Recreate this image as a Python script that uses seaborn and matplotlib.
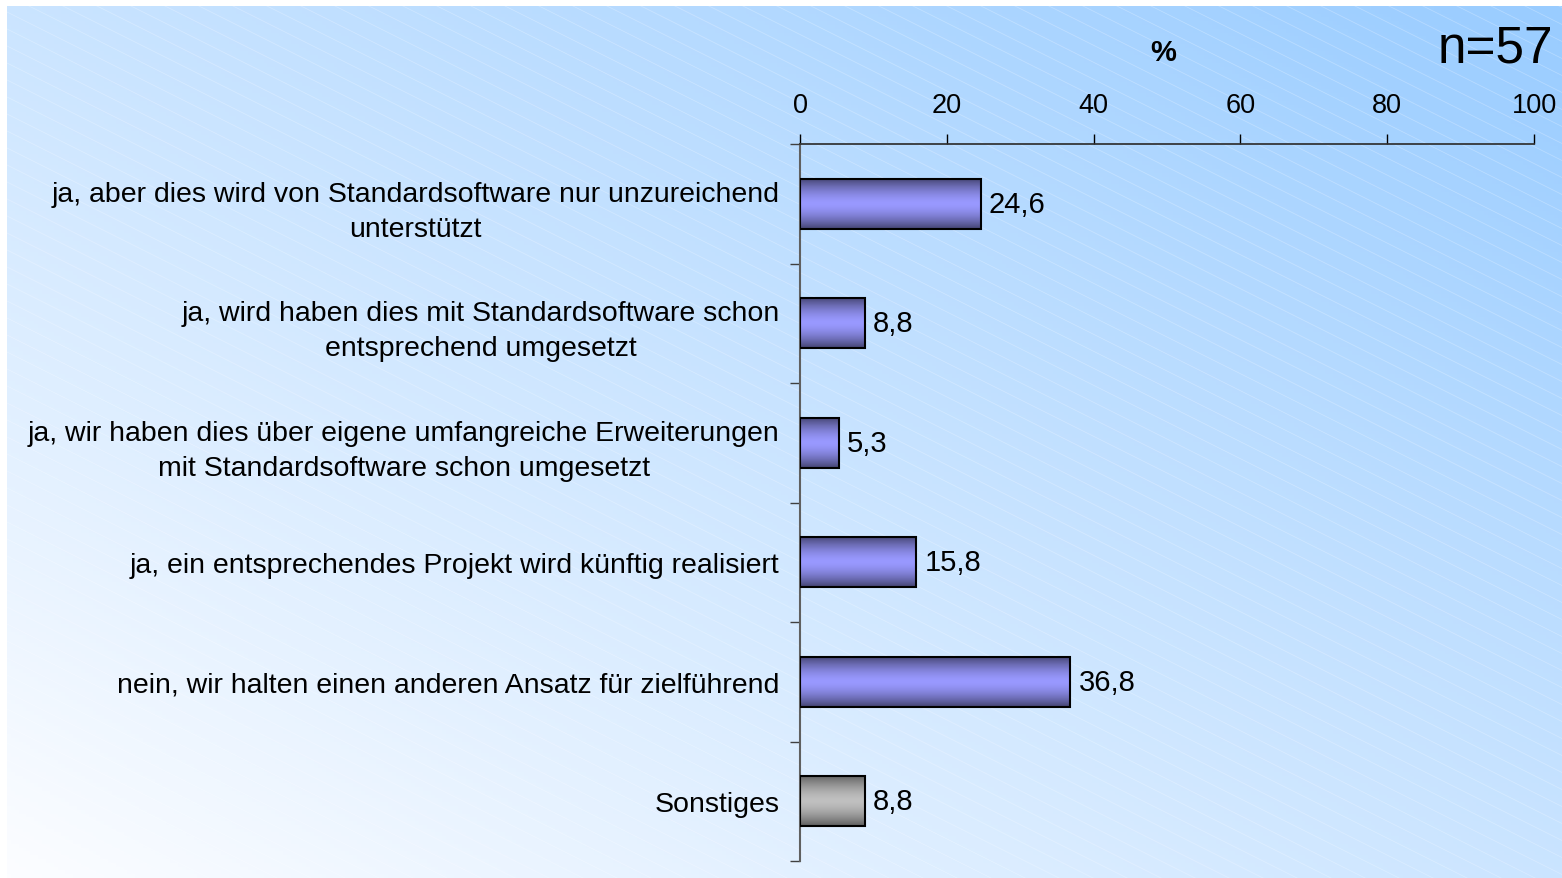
import numpy as np
import pandas as pd
import seaborn as sns
import matplotlib.pyplot as plt
from matplotlib.colors import to_rgb

sns.set_theme(style="white")
plt.rcParams['font.family'] = ['Liberation Sans', 'DejaVu Sans']
plt.rcParams['text.color'] = 'black'

# Daten
kategorien = [
    "ja, aber dies wird von Standardsoftware nur unzureichend\nunterstützt",
    "ja, wird haben dies mit Standardsoftware schon\nentsprechend umgesetzt",
    "ja, wir haben dies über eigene umfangreiche Erweiterungen\nmit Standardsoftware schon umgesetzt",
    "ja, ein entsprechendes Projekt wird künftig realisiert",
    "nein, wir halten einen anderen Ansatz für zielführend",
    "Sonstiges",
]
werte = [24.6, 8.8, 5.3, 15.8, 36.8, 8.8]
x_ticks = [0, 20, 40, 60, 80, 100]
stichprobe = "n=57"

df = pd.DataFrame({"kategorie": kategorien, "wert": werte})

fig = plt.figure(figsize=(15.62, 8.79), dpi=100)
fig.patch.set_facecolor("white")

# Hintergrund: Verlauf von weiss (unten links) nach hellblau (oben rechts)
bg = fig.add_axes([7 / 1562, 0, 1 - 7 / 1562, 1 - 7 / 879], zorder=-1)
W, H = 400, 230
X, YY = np.meshgrid(np.linspace(0, 1, W), np.linspace(0, 1, H))
t = np.clip(0.5 * X + 0.5 * (1 - YY), 0, 1)
weiss = np.array([252, 253, 255]) / 255
blau = np.array([153, 204, 255]) / 255
img = weiss[None, None, :] * (1 - t[..., None]) + blau[None, None, :] * t[..., None]
bg.imshow(img, extent=(0, 1555, 0, 872), aspect="auto", origin="upper")
# feine diagonale Linien
for c in np.arange(-800, 1800, 17):
    xs = np.array([0, 1555])
    bg.plot(xs, c - 0.5 * xs, color="white", lw=0.6, alpha=0.25)
bg.set_xlim(0, 1555)
bg.set_ylim(0, 872)
bg.axis("off")

ax = fig.add_axes([800 / 1562, 1 - 862 / 879, 734 / 1562, (862 - 145) / 879])
ax.set_facecolor("none")

farben = ["#9999ff"] * 5 + ["#c0c0c0"]
sns.barplot(data=df, x="wert", y="kategorie", hue="kategorie", palette=farben,
            legend=False, width=0.42, orient="h", ax=ax, saturation=1)

# Verlauf auf den Balken
grad = np.abs(np.linspace(-1, 1, 64)) ** 1.6
balken = [b for cont in ax.containers for b in cont if b is not None]
for patch, farbe, wert in zip(balken, farben, werte):
    hell = np.array(to_rgb(farbe))
    dunkel = hell * 0.45 if farbe != "#c0c0c0" else hell * 0.5
    g = hell[None, :] * (1 - grad[:, None]) + dunkel[None, :] * grad[:, None]
    g = np.repeat(g[:, None, :], 2, axis=1)
    bb = patch.get_bbox()
    im = ax.imshow(g, extent=(bb.x0, bb.x1, bb.y1, bb.y0), aspect="auto",
                   zorder=2, interpolation="bilinear")
    im.set_clip_path(patch)
    patch.set_facecolor("none")
    patch.set_edgecolor("black")
    patch.set_linewidth(1.5)
    patch.set_zorder(3)
    ax.annotate(f"{wert:.1f}".replace(".", ","), (bb.x1, (bb.y0 + bb.y1) / 2),
                xytext=(6, 0), textcoords="offset points", ha="left",
                va="center", fontsize=21, color="black")

ax.set_xlim(0, 100)
ax.set_ylim(len(werte) - 0.5, -0.5)
ax.set_xticks(x_ticks)
ax.xaxis.tick_top()
ax.tick_params(axis="x", direction="out", length=7, width=1, pad=12,
               labelsize=19.5, colors="black", top=True, bottom=False)
ax.set_yticks(range(len(werte)))
ax.set_yticklabels(kategorien, fontsize=20.5, multialignment="center",
                   linespacing=1.44, color="black")
ax.set_yticks(np.arange(-0.5, len(werte)), minor=True)
ax.tick_params(axis="y", which="major", length=0, pad=14.5)
ax.tick_params(axis="y", which="minor", left=True, direction="out",
               length=7, width=1, color="#404040")
ax.set_xlabel("")
ax.set_ylabel("")

for s in ["right", "bottom"]:
    ax.spines[s].set_visible(False)
ax.spines["top"].set_color("#303030")
ax.spines["left"].set_color("#606060")
ax.spines["left"].set_linewidth(1.5)

ax.text(0.495, 1.128, "%", transform=ax.transAxes, ha="center", va="center",
        fontsize=21, fontweight="bold")
fig.text(1553 / 1562, 1 - 49 / 879, stichprobe, ha="right", va="center",
         fontsize=37)

fig.savefig("out.png", dpi=100)
